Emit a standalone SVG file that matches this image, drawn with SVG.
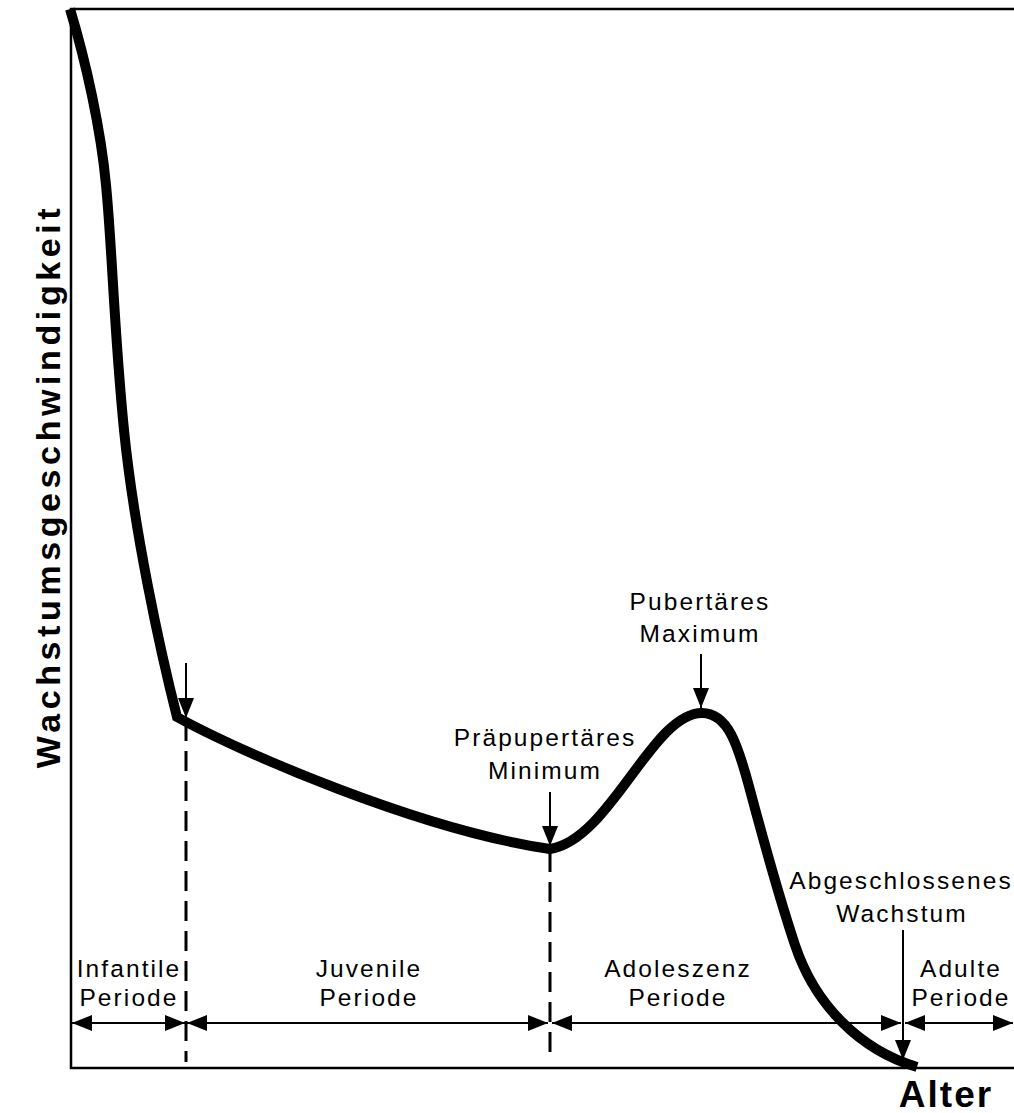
<svg xmlns="http://www.w3.org/2000/svg" width="1014" height="1113" viewBox="0 0 1014 1113">
<style>
.frame{fill:none;stroke:#000;stroke-width:2.5}
.curve{fill:none;stroke:#000;stroke-width:10;stroke-linejoin:miter;stroke-linecap:butt}
.dash{fill:none;stroke:#000;stroke-width:3;stroke-dasharray:20 10}
.arr{fill:none;stroke:#000;stroke-width:2;marker-end:url(#ah)}
.darr{fill:none;stroke:#000;stroke-width:2;marker-start:url(#ah);marker-end:url(#ah)}
.lbl{font-family:"Liberation Sans",Arial,sans-serif;font-size:24.5px;letter-spacing:2.1px;text-anchor:middle;fill:#000}
.big{font-family:"Liberation Sans",Arial,sans-serif;font-weight:bold;text-anchor:middle;fill:#000}
</style>
<defs>
<marker id="ah" viewBox="0 0 20 16" refX="20" refY="8" markerWidth="20" markerHeight="16" markerUnits="userSpaceOnUse" orient="auto-start-reverse">
<path d="M0,0 L20,8 L0,16 z" fill="#000"/>
</marker>
</defs>
<rect width="1014" height="1113" fill="#fff"/>
<g id="axes">
<path class="frame" d="M1014,9 L71,9 L71,1068 L1014,1068"/>
<text class="big" font-size="34" letter-spacing="4.6" transform="translate(60,486) rotate(-90)">Wachstumsgeschwindigkeit</text>
<text class="big" font-size="37" letter-spacing="2" x="946" y="1107">Alter</text>
</g>
<g id="curve">
<path class="curve" d="M70,9 C86,62 101,130 106,185 C112,245 114,330 124,430 C134,530 160,650 177,717 C240,752 420,830 550,849 C610,840 652,713 702,713 C728,713 738,745 750,790 C762,835 780,900 795,945 C815,1005 860,1050 917,1067"/>
</g>
<g id="connectors">
<path class="dash" d="M186,721 L186,1062"/>
<path class="dash" d="M550,852 L550,1062"/>
<path class="arr" d="M186,663 L186,718"/>
<path class="arr" d="M550,792 L550,846"/>
<path class="arr" d="M701,654 L701,708"/>
<path class="arr" d="M903,930 L903,1060"/>
<path class="darr" d="M72,1023 L185,1023"/>
<path class="darr" d="M187,1023 L548,1023"/>
<path class="darr" d="M552,1023 L901,1023"/>
<path class="darr" d="M905,1023 L1013,1023"/>
</g>
<g id="n-maximum"><text class="lbl" x="700" y="610">Pubertäres</text><text class="lbl" x="700" y="642">Maximum</text></g>
<g id="n-minimum"><text class="lbl" x="545" y="746">Präpupertäres</text><text class="lbl" x="545" y="779">Minimum</text></g>
<g id="n-abgeschlossen"><text class="lbl" x="901" y="889">Abgeschlossenes</text><text class="lbl" x="902" y="922">Wachstum</text></g>
<g id="n-infantil"><text class="lbl" x="129" y="977">Infantile</text><text class="lbl" x="129" y="1006">Periode</text></g>
<g id="n-juvenil"><text class="lbl" x="369" y="977">Juvenile</text><text class="lbl" x="369" y="1006">Periode</text></g>
<g id="n-adoleszenz"><text class="lbl" x="678" y="977">Adoleszenz</text><text class="lbl" x="678" y="1006">Periode</text></g>
<g id="n-adult"><text class="lbl" x="961" y="977">Adulte</text><text class="lbl" x="961" y="1006">Periode</text></g>
</svg>
